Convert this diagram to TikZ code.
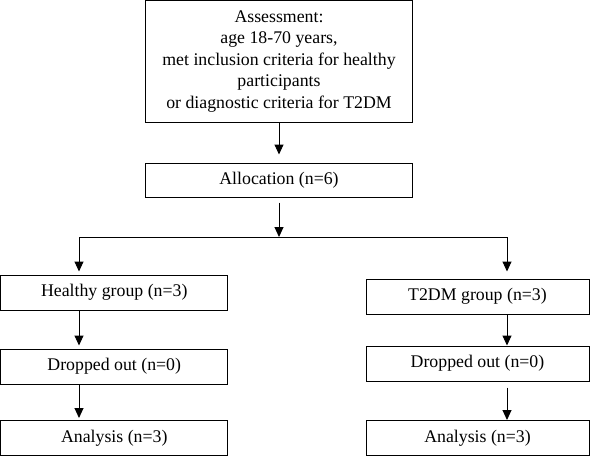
\documentclass[tikz,border=0pt]{standalone}
\usepackage{fontspec}
\setmainfont{Liberation Serif}
\usetikzlibrary{arrows.meta,positioning,calc}

\begin{document}
\begin{tikzpicture}[
  x=1pt, y=-1pt,
  box/.style={draw=black, line width=1pt, align=center, inner sep=0pt, font=\fontsize{17.8}{21.5}\selectfont},
  wide/.style={box, minimum width=267pt},
  grpL/.style={box, minimum width=227pt, minimum height=35pt},
  grpR/.style={box, minimum width=223pt, minimum height=35pt},
  arr/.style={-{Triangle[length=10pt,width=9pt]}, line width=1pt}
]
\useasboundingbox (0,0) rectangle (590,456);
\node[wide, minimum height=122pt] (assess) at (279,61.5) {Assessment:\\age 18-70 years,\\met inclusion criteria for healthy\\participants\\or diagnostic criteria for T2DM};
\node[wide, minimum height=34pt] (alloc) at (279,180) {Allocation (n=6)};
% healthy arm
\node[grpL] (healthy) at (114.25,292.5) {Healthy group (n=3)};
\node[grpL] (dropL) at (114.25,366.5) {Dropped out (n=0)};
\node[grpL] (analL) at (114.25,438) {Analysis (n=3)};
% T2DM arm
\node[grpR] (t2dm) at (477.5,296.5) {T2DM group (n=3)};
\node[grpR] (dropR) at (477.5,363.5) {Dropped out (n=0)};
\node[grpR] (analR) at (477.5,438) {Analysis (n=3)};
\coordinate (split) at (279,237);
\coordinate (splitL) at (79,237);
\coordinate (splitR) at (507,237);
\draw[arr, shorten >=8pt] (assess) -- (alloc);
\draw[arr, shorten <=5pt] (alloc) -- (split);
\draw[line width=1pt] (splitL) -- (splitR);
\draw[arr, shorten >=3pt] (splitL) -- (splitL |- healthy.north);
\draw[arr, shorten >=7pt] (splitR) -- (splitR |- t2dm.north);
\draw[arr, shorten >=3pt] (splitL |- healthy.south) -- (splitL |- dropL.north);
\draw[arr, shorten >=2pt] (splitL |- dropL.south) -- (splitL |- analL.north);
\draw[arr] (splitR |- t2dm.south) -- (splitR |- dropR.north);
\draw[arr, shorten <=6pt] (splitR |- dropR.south) -- (splitR |- analR.north);
\end{tikzpicture}
\end{document}
